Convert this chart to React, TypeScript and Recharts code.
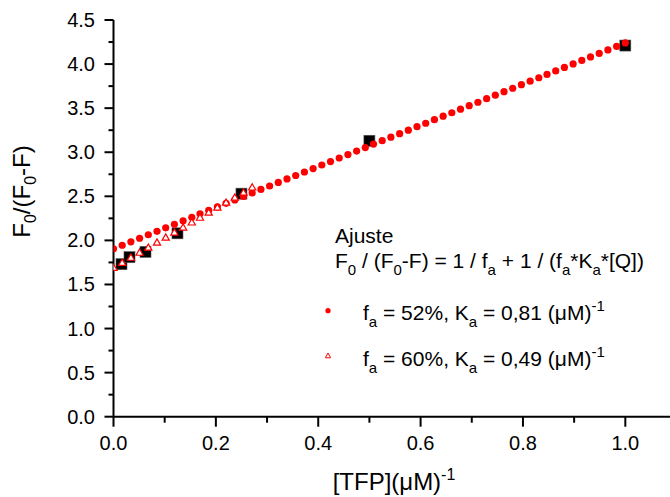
import React from 'react';
import { ScatterChart, Scatter, XAxis, YAxis, Customized } from 'recharts';

// Experimental points (black squares)
const expX = [0.0156, 0.03125, 0.0625, 0.125, 0.25, 0.5, 1.0];
const expY = [1.73, 1.81, 1.87, 2.08, 2.53, 3.13, 4.21];

// Fit fa = 52%, Ka = 0.81 (red filled circles)
const fit52X = [0, 0.017, 0.034, 0.051, 0.068, 0.085, 0.102, 0.119, 0.136, 0.153, 0.169, 0.186, 0.203, 0.22, 0.237, 0.254, 0.271, 0.288, 0.305, 0.322, 0.339, 0.356, 0.373, 0.39, 0.407, 0.424, 0.441, 0.458, 0.475, 0.492, 0.508, 0.525, 0.542, 0.559, 0.576, 0.593, 0.61, 0.627, 0.644, 0.661, 0.678, 0.695, 0.712, 0.729, 0.746, 0.763, 0.78, 0.797, 0.814, 0.831, 0.847, 0.864, 0.881, 0.898, 0.915, 0.932, 0.949, 0.966, 0.983, 1.0];
const fit52Y = [1.905, 1.945, 1.984, 2.024, 2.064, 2.103, 2.143, 2.183, 2.222, 2.262, 2.301, 2.341, 2.38, 2.42, 2.459, 2.499, 2.538, 2.578, 2.617, 2.657, 2.697, 2.736, 2.776, 2.815, 2.855, 2.894, 2.934, 2.974, 3.013, 3.053, 3.092, 3.131, 3.171, 3.21, 3.25, 3.29, 3.329, 3.369, 3.409, 3.448, 3.488, 3.528, 3.567, 3.607, 3.647, 3.687, 3.726, 3.766, 3.806, 3.845, 3.883, 3.922, 3.962, 4.002, 4.042, 4.081, 4.121, 4.161, 4.2, 4.24];

// Fit fa = 60%, Ka = 0.49 (red open triangles)
const fit60X = [0, 0.017, 0.034, 0.051, 0.068, 0.085, 0.102, 0.119, 0.136, 0.153, 0.169, 0.186, 0.203, 0.22, 0.237, 0.254, 0.271];
const fit60Y = [1.69, 1.747, 1.804, 1.861, 1.918, 1.976, 2.033, 2.09, 2.147, 2.204, 2.258, 2.315, 2.372, 2.429, 2.486, 2.543, 2.601];

const xTicks = [0, 0.1, 0.2, 0.3, 0.4, 0.5, 0.6, 0.7, 0.8, 0.9, 1.0, 1.1];
const xMajor = [0, 0.2, 0.4, 0.6, 0.8, 1.0];
const yTicks = [0, 0.25, 0.5, 0.75, 1, 1.25, 1.5, 1.75, 2, 2.25, 2.5, 2.75, 3, 3.25, 3.5, 3.75, 4, 4.25, 4.5];
const yMajor = [0, 0.5, 1, 1.5, 2, 2.5, 3, 3.5, 4, 4.5];

const expData = expX.map((x, i) => ({ x, y: expY[i] }));
const fit52Data = fit52X.map((x, i) => ({ x, y: fit52Y[i] }));
const fit60Data = fit60X.map((x, i) => ({ x, y: fit60Y[i] }));

const FONT = '"Liberation Sans", Arial, sans-serif';
const RED = '#ff0000';

const isIn = (arr: number[], v: number) => arr.some((a) => Math.abs(a - v) < 1e-6);

const BottomTick = (props: any) => {
  const { x, y, payload } = props;
  const v = payload.value;
  const major = isIn(xMajor, v);
  return (
    <g>
      <line x1={x} x2={x} y1={y} y2={y + (major ? 10 : 6)} stroke="#000" strokeWidth={2} />
      {major && (
        <text x={x} y={y + 33} textAnchor="middle" fontFamily={FONT} fontSize={20} fill="#000">
          {v.toFixed(1)}
        </text>
      )}
    </g>
  );
};

const TopTick = (props: any) => {
  const { x, y, payload } = props;
  const v = payload.value;
  const major = isIn(xMajor, v);
  return <line x1={x} x2={x} y1={y} y2={y + (major ? 4 : 3)} stroke="#000" strokeWidth={2} />;
};

const LeftTick = (props: any) => {
  const { x, y, payload } = props;
  const v = payload.value;
  const major = isIn(yMajor, v);
  return (
    <g>
      <line x1={x} x2={x - (major ? 9 : 5)} y1={y} y2={y} stroke="#000" strokeWidth={2} />
      {major && (
        <text x={x - 18.5} y={y + 7} textAnchor="end" fontFamily={FONT} fontSize={20} fill="#000">
          {v.toFixed(1)}
        </text>
      )}
    </g>
  );
};

const SquareShape = (props: any) => {
  const { cx, cy } = props;
  return <rect x={cx - 5.5} y={cy - 5.5} width={11} height={11} fill="#000" stroke="#555" strokeWidth={0.6} />;
};

const CircleShape = (props: any) => {
  const { cx, cy } = props;
  return <circle cx={cx} cy={cy} r={3.6} fill={RED} />;
};

const TriangleShape = (props: any) => {
  const { cx, cy } = props;
  const d = `M${cx},${cy - 3.6} L${cx + 3.6},${cy + 2.6} L${cx - 3.6},${cy + 2.6} Z`;
  return <path d={d} fill="#fff" stroke={RED} strokeWidth={1.2} />;
};

const Annotations = () => (
  <g fontFamily={FONT} fill="#000">
    {/* Y axis title */}
    <text transform="translate(30,191.5) rotate(-90)" textAnchor="middle" fontSize={24}>
      <tspan>F</tspan>
      <tspan fontSize={16} dy={6}>0</tspan>
      <tspan dy={-6}>/(F</tspan>
      <tspan fontSize={16} dy={6}>0</tspan>
      <tspan dy={-6}>-F)</tspan>
    </text>
    {/* X axis title */}
    <text x={394} y={490} textAnchor="middle" fontSize={24}>
      <tspan>[TFP](μM)</tspan>
      <tspan fontSize={16} dy={-10}>-1</tspan>
    </text>
    {/* Legend / annotation */}
    <text x={335} y={243} fontSize={21}>Ajuste</text>
    <text x={335} y={268} fontSize={21}>
      <tspan>F</tspan>
      <tspan fontSize={15} dy={7}>0</tspan>
      <tspan dy={-7}> / (F</tspan>
      <tspan fontSize={15} dy={7}>0</tspan>
      <tspan dy={-7}>-F) = 1 / f</tspan>
      <tspan fontSize={15} dy={7}>a</tspan>
      <tspan dy={-7}> + 1 / (f</tspan>
      <tspan fontSize={15} dy={7}>a</tspan>
      <tspan dy={-7}>*K</tspan>
      <tspan fontSize={15} dy={7}>a</tspan>
      <tspan dy={-7}>*[Q])</tspan>
    </text>
    <circle cx={328} cy={310.7} r={2.6} fill={RED} />
    <text x={363} y={320} fontSize={21}>
      <tspan>f</tspan>
      <tspan fontSize={15} dy={7}>a</tspan>
      <tspan dy={-7}> = 52%, K</tspan>
      <tspan fontSize={15} dy={7}>a</tspan>
      <tspan dy={-7}> = 0,81 (μM)</tspan>
      <tspan fontSize={15} dy={-9}>-1</tspan>
    </text>
    <path d="M328,353 L330.6,357.8 L325.4,357.8 Z" fill="#fff" stroke={RED} strokeWidth={1} />
    <text x={363} y={366} fontSize={21}>
      <tspan>f</tspan>
      <tspan fontSize={15} dy={7}>a</tspan>
      <tspan dy={-7}> = 60%, K</tspan>
      <tspan fontSize={15} dy={7}>a</tspan>
      <tspan dy={-7}> = 0,49 (μM)</tspan>
      <tspan fontSize={15} dy={-9}>-1</tspan>
    </text>
  </g>
);

export default function App() {
  return (
    <div style={{ position: 'absolute', left: 0, top: 0, width: 670, height: 497, overflow: 'hidden', background: '#fff' }}>
      <ScatterChart width={690} height={497} margin={{ top: 20, right: 13.5, bottom: 40.3, left: 53.5 }}>
        <XAxis
          xAxisId="bottom"
          type="number"
          dataKey="x"
          domain={[0, 1.1]}
          ticks={xTicks}
          interval={0}
          orientation="bottom"
          height={40}
          tickSize={0}
          tickMargin={0}
          tickLine={false}
          tick={<BottomTick />}
          axisLine={{ stroke: '#000', strokeWidth: 2 }}
          allowDataOverflow
        />
        <XAxis
          xAxisId="top"
          type="number"
          dataKey="x"
          domain={[0, 1.1]}
          ticks={xTicks}
          interval={0}
          orientation="top"
          height={0}
          tickSize={0}
          tickMargin={0}
          tickLine={false}
          tick={<TopTick />}
          axisLine={{ stroke: '#000', strokeWidth: 2 }}
          allowDataOverflow
        />
        <YAxis
          type="number"
          dataKey="y"
          domain={[0, 4.5]}
          ticks={yTicks}
          interval={0}
          width={60}
          tickSize={0}
          tickMargin={0}
          tickLine={false}
          tick={<LeftTick />}
          axisLine={{ stroke: '#000', strokeWidth: 2 }}
          allowDataOverflow
        />
        <Scatter xAxisId="bottom" data={expData} shape={<SquareShape />} isAnimationActive={false} />
        <Scatter xAxisId="bottom" data={fit52Data} shape={<CircleShape />} isAnimationActive={false} />
        <Scatter xAxisId="bottom" data={fit60Data} shape={<TriangleShape />} isAnimationActive={false} />
        <Customized component={<Annotations />} />
      </ScatterChart>
    </div>
  );
}
